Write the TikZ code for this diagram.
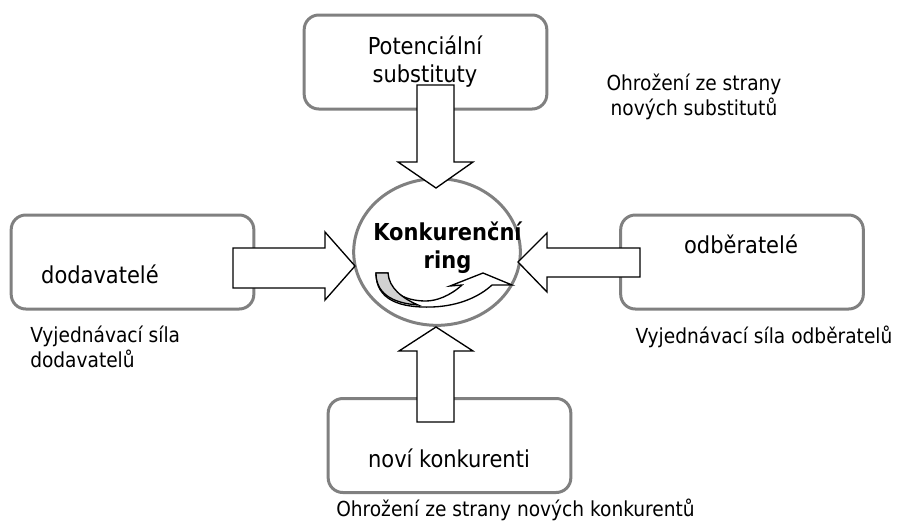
\documentclass[tikz,border=0pt]{standalone}
\usepackage{fontspec}
\setmainfont{DejaVu Sans Condensed}
\usepackage{tikz}
\usetikzlibrary{shapes.geometric}
\definecolor{boxgray}{RGB}{128,128,128}
\definecolor{tailgray}{RGB}{210,210,210}

\begin{document}
\begin{tikzpicture}[x=0.75pt, y=-0.75pt,
box/.style={draw=boxgray, line width=2.25pt, rounded corners=11pt, minimum width=182pt, minimum height=70.5pt, inner sep=0pt},
barrow/.style={draw=black, fill=white, line width=1pt, line join=miter},
txt/.style={font=\fontsize{17.5}{21}\selectfont, inner sep=0pt, align=center},
lbl/.style={font=\fontsize{15.5}{18.75}\selectfont, inner sep=0pt}]

\useasboundingbox (0,0) rectangle (898,521);

% boxes
\node [box] (subst) at (425.5,62) {};
\node [box] (dod) at (132.5,262) {};
\node [box] (odb) at (742,262) {};
\node [box] (nov) at (449.5,445.5) {};

\node [draw=boxgray, line width=2.25pt, ellipse, minimum width=125pt, minimum height=110pt, inner sep=0pt] (kring) at (437,252) {};

% texts in boxes
\node [txt] (substtxt) at (425,62) {Potenciální\\substituty};
\node [txt] (dodtxt) at (100,274) {dodavatelé};
\node [txt] (odbtxt) at (741,244) {odběratelé};
\node [txt] (novtxt) at (449,458) {noví konkurenti};
\node [txt, font=\fontsize{17.5}{21}\bfseries] (ringtxt) at (447.5,248) {Konkurenční\\ring};

% block arrows
\draw [barrow] (417,85) -- (454,85) -- (454,162) -- (473,162) -- (436,188) -- (398,162) -- (417,162) -- cycle;
\draw [barrow] (417,422) -- (454,422) -- (454,351) -- (473,351) -- (436,327) -- (399,351) -- (417,351) -- cycle;
\draw [barrow] (233,248) -- (325,248) -- (325,232) -- (355,266) -- (325,300) -- (325,288) -- (233,288) -- cycle;
\draw [barrow] (640,248) -- (547,248) -- (547,233) -- (518,262) -- (547,292) -- (547,277) -- (640,277) -- cycle;

% curved arrow in the ring
\draw [barrow] (376,273) .. controls (376,300) and (400,308) .. (432,307) .. controls (460,306) and (480,296) .. (492,285) -- (512,285) -- (483,273) -- (450,286) -- (462,285) .. controls (450,296) and (436,301) .. (426,301) .. controls (402,301) and (388,290) .. (388,273) -- cycle;
\draw [barrow, fill=tailgray] (376,273) .. controls (376,292) and (390,303) .. (418,305) .. controls (402,298) and (389,288) .. (388,273) -- cycle;

% labels
\node [lbl, align=center] (lsubst) at (694,97) {Ohrožení ze strany\\nových substitutů};
\node [lbl, align=left, anchor=west] (ldod) at (30,346.5) {Vyjednávací síla\\dodavatelů};
\node [lbl] (lodb) at (764,336.5) {Vyjednávací síla odběratelů};
\node [lbl] (lnov) at (515.5,509.5) {Ohrožení ze strany nových konkurentů};
\end{tikzpicture}
\end{document}
